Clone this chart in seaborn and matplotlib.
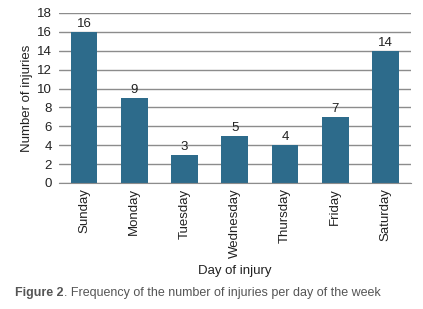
import pandas as pd
import matplotlib.pyplot as plt
import seaborn as sns

days = ['Sunday', 'Monday', 'Tuesday', 'Wednesday', 'Thursday', 'Friday', 'Saturday']
injuries = [16, 9, 3, 5, 4, 7, 14]
y_ticks = [0, 2, 4, 6, 8, 10, 12, 14, 16, 18]

sns.set_style('white')
plt.rcParams['font.family'] = ['Liberation Sans', 'DejaVu Sans']

df = pd.DataFrame({'day': days, 'n': injuries})

fig = plt.figure(figsize=(4.23, 3.09), dpi=100)
ax = fig.add_axes([0.139, 0.408, 0.832, 0.55])

sns.barplot(x='day', y='n', data=df, ax=ax, color='#2d6b8b', width=0.53,
            saturation=1, order=days, linewidth=0)

ax.set_ylim(0, 18)
ax.set_yticks(y_ticks)
ax.yaxis.grid(True, color='#8c8c8c', linewidth=1)
ax.set_axisbelow(True)
for s in ['top', 'right', 'left']:
    ax.spines[s].set_visible(False)
ax.spines['bottom'].set_color('#8c8c8c')
ax.tick_params(axis='y', length=0, labelsize=9.5, pad=5, colors='#222222')
ax.tick_params(axis='x', length=0, labelsize=9.5, rotation=90, pad=4, colors='#222222')

for i, v in enumerate(injuries):
    ax.text(i, v + 0.2, str(v), ha='center', va='bottom', fontsize=9.5, color='#222222')

ax.set_ylabel('Number of injuries', fontsize=9.5, color='#222222', labelpad=3)
ax.set_xlabel('Day of injury', fontsize=9.5, color='#222222', labelpad=5)

# caption with bold prefix
fig.canvas.draw()
r = fig.canvas.get_renderer()
t1 = fig.text(0.036, 0.042, 'Figure 2', fontsize=9, fontweight='bold', color='#555555')
bb = t1.get_window_extent(renderer=r)
x2 = bb.x1 / fig.bbox.width
fig.text(x2, 0.042, '. Frequency of the number of injuries per day of the week',
         fontsize=9, color='#555555')

fig.savefig('out.png', dpi=100)
